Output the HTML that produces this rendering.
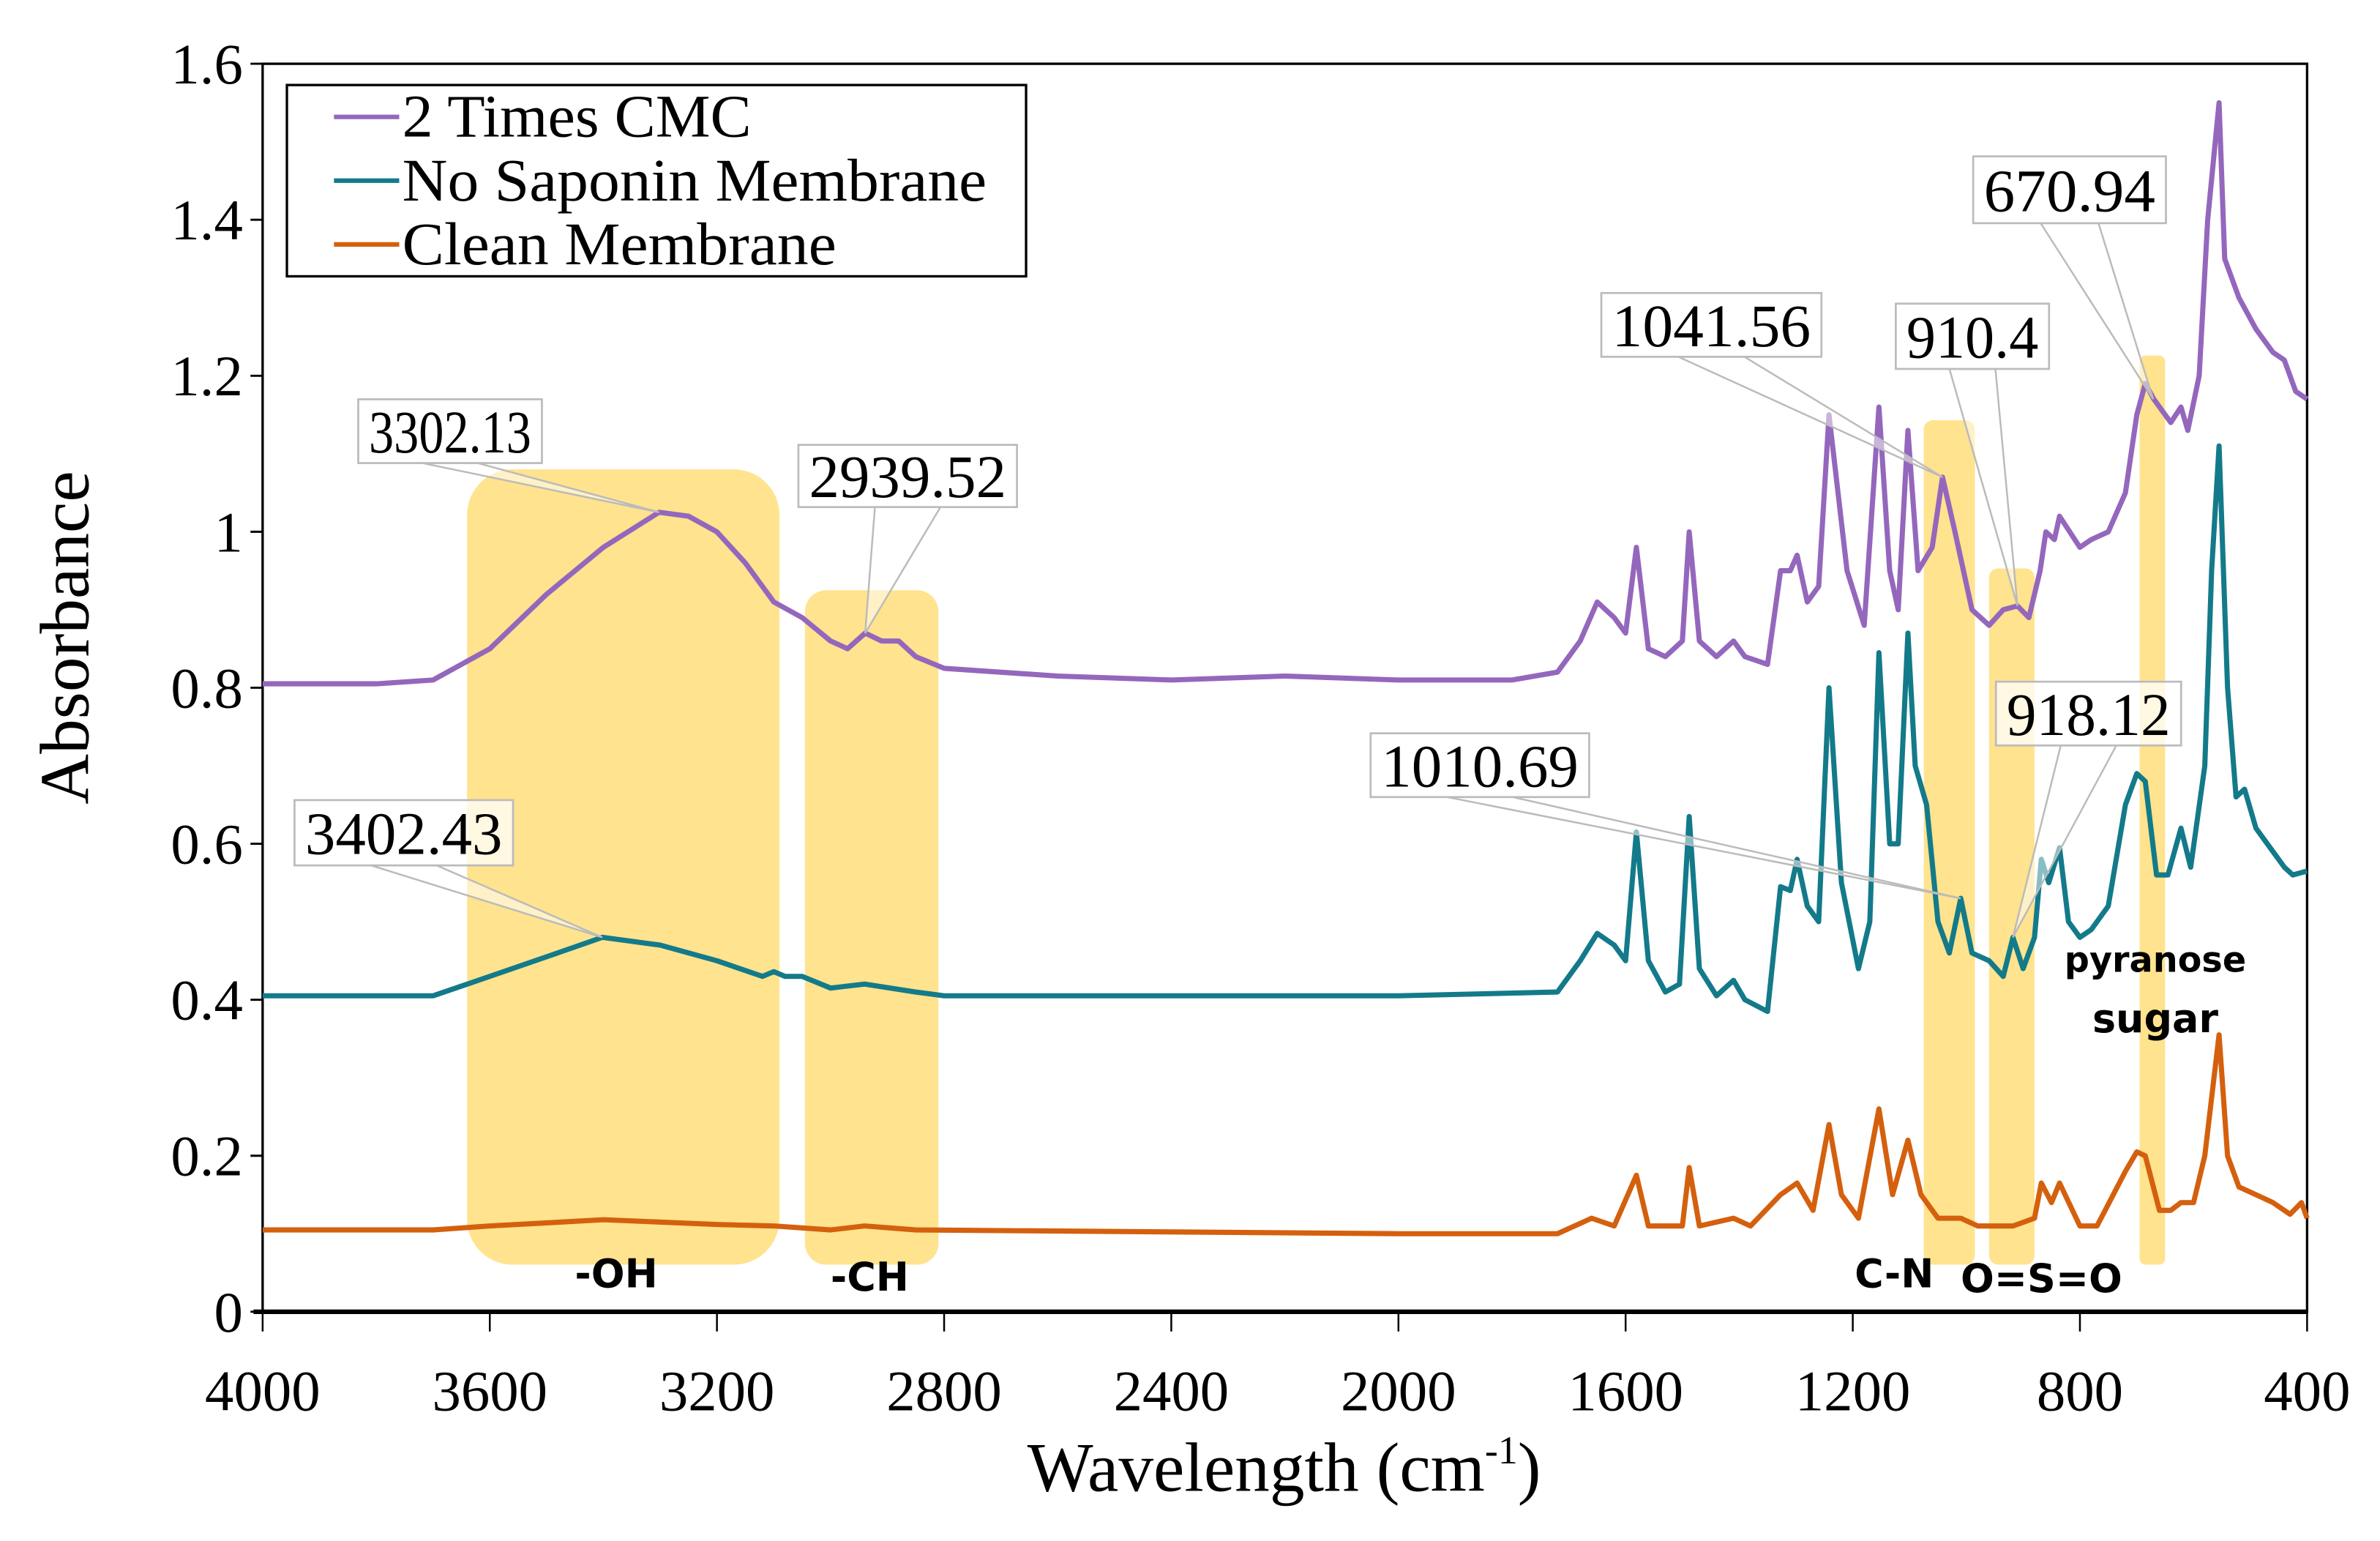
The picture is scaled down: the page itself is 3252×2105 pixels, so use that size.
<!DOCTYPE html>
<html><head><meta charset="utf-8"><style>
html,body{margin:0;padding:0;background:#fff;}
svg{display:block;}
text{font-family:"Liberation Serif",serif;}
.b{font-family:"DejaVu Sans","Liberation Sans",sans-serif;font-weight:bold;}
</style></head><body>
<svg id="chart" width="3252" height="2105" viewBox="0 0 1568 1015" xmlns="http://www.w3.org/2000/svg">
<g id="hl"></g>
<g id="axes"></g>
<g id="series"></g>
<g id="ann"></g>
</svg>
<script>
const xTicks=[4000,3600,3200,2800,2400,2000,1600,1200,800,400];
const yTicks=[0,0.2,0.4,0.6,0.8,1,1.2,1.4,1.6];
const yTickLabels=["0","0.2","0.4","0.6","0.8","1","1.2","1.4","1.6"];
const cmcWn=[4000,3800,3700,3600,3500,3400,3302,3250,3200,3150,3100,3050,3000,2970,2939,2910,2880,2850,2800,2600,2400,2200,2000,1800,1720,1680,1650,1620,1600,1581,1560,1530,1500,1488,1470,1440,1410,1390,1350,1327,1310,1298,1280,1260,1242,1210,1180,1154,1135,1120,1103,1085,1060,1042,1020,990,960,935,910,890,870,860,845,836,800,780,750,720,700,685,670,640,622,610,590,575,555,545,520,490,460,440,420,400];
const cmcAbs=[0.805,0.805,0.81,0.85,0.92,0.98,1.025,1.02,1.0,0.96,0.91,0.89,0.86,0.85,0.87,0.86,0.86,0.84,0.825,0.815,0.81,0.815,0.81,0.81,0.82,0.86,0.91,0.89,0.87,0.98,0.85,0.84,0.86,1.0,0.86,0.84,0.86,0.84,0.83,0.95,0.95,0.97,0.91,0.93,1.15,0.95,0.88,1.16,0.95,0.9,1.13,0.95,0.98,1.07,1.0,0.9,0.88,0.9,0.905,0.89,0.95,1.0,0.99,1.02,0.98,0.99,1.0,1.05,1.15,1.19,1.17,1.14,1.16,1.13,1.2,1.4,1.55,1.35,1.3,1.26,1.23,1.22,1.18,1.17];
const nsWn=[4000,3700,3600,3500,3402,3300,3200,3120,3100,3080,3050,3000,2940,2850,2800,2000,1720,1680,1650,1620,1600,1581,1560,1530,1505,1488,1470,1440,1410,1390,1350,1327,1310,1298,1280,1260,1242,1220,1190,1170,1154,1135,1120,1103,1090,1070,1050,1030,1010,990,960,935,918,900,880,868,855,836,820,800,780,750,720,700,685,665,645,622,605,580,568,555,540,525,510,490,460,440,425,400];
const nsAbs=[0.405,0.405,0.43,0.455,0.48,0.47,0.45,0.43,0.436,0.43,0.43,0.415,0.42,0.41,0.405,0.405,0.41,0.45,0.485,0.47,0.45,0.615,0.45,0.41,0.42,0.635,0.44,0.405,0.425,0.4,0.385,0.545,0.54,0.58,0.52,0.5,0.8,0.55,0.44,0.5,0.845,0.6,0.6,0.87,0.7,0.65,0.5,0.46,0.53,0.46,0.45,0.43,0.48,0.44,0.48,0.58,0.55,0.595,0.5,0.48,0.49,0.52,0.65,0.69,0.68,0.56,0.56,0.62,0.57,0.7,0.95,1.11,0.8,0.66,0.67,0.62,0.59,0.57,0.56,0.565];
const clWn=[4000,3700,3600,3400,3200,3100,3000,2940,2850,2000,1720,1660,1620,1581,1560,1500,1488,1470,1410,1380,1327,1298,1270,1242,1220,1190,1154,1130,1103,1080,1050,1010,980,918,880,868,850,836,800,770,720,700,685,660,640,622,600,580,555,540,520,490,460,430,410,400];
const clAbs=[0.105,0.105,0.11,0.118,0.112,0.11,0.105,0.11,0.105,0.1,0.1,0.12,0.11,0.175,0.11,0.11,0.185,0.11,0.12,0.11,0.15,0.165,0.13,0.24,0.15,0.12,0.26,0.15,0.22,0.15,0.12,0.12,0.11,0.11,0.12,0.165,0.14,0.165,0.11,0.11,0.18,0.205,0.2,0.13,0.13,0.14,0.14,0.2,0.355,0.2,0.16,0.15,0.14,0.125,0.14,0.12];
const seriesNames=["2 Times CMC","No Saponin Membrane","Clean Membrane"];
const X0=173,X1=1520,Y0=864,Y1=42;
function sx(w){return X0+(4000-w)/3600*(X1-X0);}
function sy(a){return Y0-a/1.6*(Y0-Y1);}
const NS="http://www.w3.org/2000/svg";
function mk(tag,attrs,parent,txt){const e=document.createElementNS(NS,tag);for(const k in attrs)e.setAttribute(k,attrs[k]);if(txt!==undefined)e.textContent=txt;parent.appendChild(e);return e;}
const hl=document.getElementById('hl'),axes=document.getElementById('axes'),ser=document.getElementById('series'),ann=document.getElementById('ann');
const bands=[["oh-band",3640,3090,1.08,30],["ch-band",3045,2810,0.925,14],["cn-band",1075,985,1.143,6],["oso-band",960,880,0.953,6],["pyranose-band",695,650,1.226,4]];
bands.forEach(b=>{const x=sx(b[1]),w=sx(b[2])-sx(b[1]),y=sy(b[3]);
const r=mk('rect',{x:x,y:y,width:w,height:833-y,rx:b[4],fill:'#FFE38E'},hl);

});
const frame=mk('rect',{x:X0,y:Y1,width:X1-X0,height:Y0-Y1,fill:'none',stroke:'#000','stroke-width':1.6},axes);


const xa=mk('line',{x1:X0-6,x2:X1,y1:Y0,y2:Y0,stroke:'#000','stroke-width':3},axes);


yTicks.forEach((v,i)=>{const y=sy(v);mk('line',{x1:X0-8,x2:X0,y1:y,y2:y,stroke:'#000','stroke-width':1.4},axes);
const t=mk('text',{x:160,y:y+13,'text-anchor':'end','font-size':38},axes,yTickLabels[i]);

});
xTicks.forEach(v=>{const x=sx(v);mk('line',{x1:x,x2:x,y1:Y0,y2:Y0+13,stroke:'#000','stroke-width':1.2},axes);
const t=mk('text',{x:x,y:929,'text-anchor':'middle','font-size':38},axes,String(v));

});
const xt=mk('text',{x:846,y:982,'text-anchor':'middle','font-size':46},axes);
xt.innerHTML='Wavelength (cm<tspan font-size="26" dy="-18">-1</tspan><tspan dy="18">)</tspan>';


const yt=mk('text',{x:0,y:0,'text-anchor':'middle','font-size':46,transform:'translate(58,420) rotate(-90)'},axes,'Absorbance');


const colors=['#9467BD','#137A8A','#D4600E'];
[[cmcWn,cmcAbs],[nsWn,nsAbs],[clWn,clAbs]].forEach((s,i)=>{
let d='';s[0].forEach((w,j)=>{d+=(j?'L':'M')+sx(w).toFixed(1)+','+sy(s[1][j]).toFixed(1);});
const p=mk('path',{d:d,fill:'none',stroke:colors[i],'stroke-width':3.4,'stroke-linejoin':'round'},ser);

});
const lg=mk('g',{},ann);


mk('rect',{x:189,y:56,width:487,height:126,fill:'#fff',stroke:'#000','stroke-width':1.6},lg);
seriesNames.forEach((n,i)=>{const y=77+i*42;
mk('line',{x1:220,x2:263,y1:y,y2:y,stroke:colors[i],'stroke-width':3},lg);
const t=mk('text',{x:265,y:y+13,'font-size':40,textLength:[230,385,286][i],lengthAdjust:'spacingAndGlyphs'},lg,n);

});
const callouts=[["3302.13",236,263,121,42,3302,1.025],["2939.52",526,293,144,41,2939,0.87],["1041.56",1055,193,145,42,1042,1.07],["910.4",1249,200,101,43,910,0.905],["670.94",1300,103,127,44,671,1.17],["3402.43",194,527,144,43,3402,0.48],["1010.69",903,483,144,42,1010,0.53],["918.12",1315,449,122,42,918,0.48]];
callouts.forEach(c=>{const g=mk('g',{},ann);


const px=sx(c[5]),py=sy(c[6]),by=c[2]+c[4];
mk('polygon',{points:(c[1]+c[3]*0.35)+','+by+' '+px+','+py+' '+(c[1]+c[3]*0.65)+','+by,fill:'rgba(255,255,255,0.5)',stroke:'#bbb','stroke-width':1.2},g);
mk('rect',{x:c[1],y:c[2],width:c[3],height:c[4],fill:'rgba(255,255,255,0.75)',stroke:'#bbb','stroke-width':1.3},g);
mk('text',{x:c[1]+c[3]/2,y:c[2]+c[4]/2+14,'text-anchor':'middle','font-size':40,textLength:c[3]-14,lengthAdjust:'spacingAndGlyphs'},g,c[0]);});
[["oh-label","-OH",406,848],["ch-label","-CH",573,850],["cn-label","C-N",1248,848],["oso-label","O=S=O",1345,851],["pyranose-label","pyranose",1420,640],["sugar-label","sugar",1420,680]].forEach(l=>{
const t=mk('text',{x:l[2],y:l[3],'text-anchor':'middle','font-size':l[1].length>5?23:26,class:'b'},ann,l[1]);

});
</script>
</body></html>
